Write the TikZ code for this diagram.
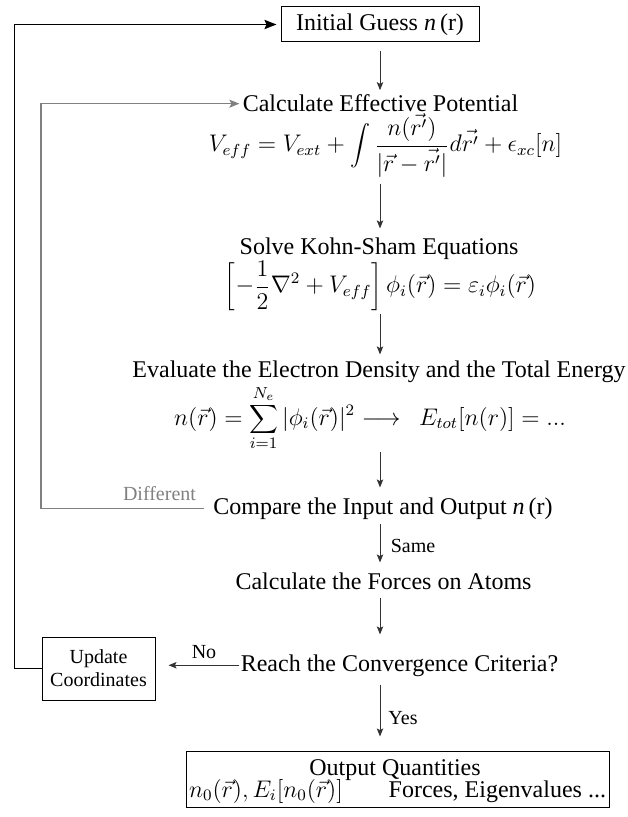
\documentclass[tikz,border=0pt]{standalone}
\usepackage[no-math]{fontspec}
\setmainfont{Liberation Serif}
\usetikzlibrary{arrows.meta,calc}
\begin{document}
\begin{tikzpicture}[x=0.5pt,y=-0.5pt,
  txt/.style={inner sep=0pt, font=\fontsize{12}{14.4}\selectfont},
  lab/.style={inner sep=0pt, font=\fontsize{10}{12}\selectfont},
  boxnode/.style={draw, line width=0.5pt, inner sep=0pt},
  arr/.style={draw=black!80, line width=0.5pt, -{Stealth[length=4pt,width=3.2pt,inset=0.8pt]}},
  blackloop/.style={draw=black, line width=0.9pt, -{Stealth[length=6pt,width=4.6pt,inset=1pt]}},
  grayloop/.style={draw=black!50, line width=0.6pt, -{Stealth[length=5pt,width=4pt,inset=1pt]}}
]
\useasboundingbox (0,0) rectangle (627,817);
\coordinate (col) at (380,0);

\node[boxnode, txt, minimum width=99pt, minimum height=17.5pt] (init) at (380,24.5) {Initial Guess \textit{n}\,(r)};
\node[txt, anchor=base] (calc) at (380.5,112) {Calculate Effective Potential};
\node[txt, anchor=base] (veff) at (385.5,152) {$\displaystyle V_{eff} = V_{ext} + \int \frac{n(\vec{r'})}{|\vec{r}-\vec{r'}|}d\vec{r'} + \epsilon_{xc}[n]$};
\node[txt, anchor=base] (solve) at (379,255) {Solve Kohn-Sham Equations};
\node[txt, anchor=base] (ks) at (380.5,293) {$\displaystyle \left[-\frac{1}{2}\nabla^2 + V_{eff}\right]\phi_i(\vec{r}) = \varepsilon_i\phi_i(\vec{r})$};
\node[txt, anchor=base] (eval) at (379,377) {Evaluate the Electron Density and the Total Energy};
\node[txt, anchor=base] (dens) at (370,425) {$\displaystyle n(\vec{r}) = \sum_{i=1}^{N_e}|\phi_i(\vec{r})|^2 \longrightarrow\ \ E_{tot}[n(r)] = ...$};
\node[txt, anchor=base] (comp) at (383,514) {Compare the Input and Output \textit{n}\,(r)};
\node[txt, anchor=base] (force) at (383.5,589) {Calculate the Forces on Atoms};
\node[txt, anchor=base] (reach) at (399.5,671) {Reach the Convergence Criteria?};
\node[boxnode, align=center, font=\fontsize{10}{11.5}\selectfont, minimum width=56.5pt, minimum height=31.5pt] (upd) at (98.5,668.5) {Update\\Coordinates};
\node[boxnode, minimum width=211.5pt, minimum height=28pt] (out) at (397.5,779) {};
\node[txt, anchor=base] (outt) at (395,775) {Output Quantities};
\node[txt, anchor=base] (outr) at (397.5,797) {\makebox[208.5pt]{$n_0(\vec{r}), E_i[n_0(\vec{r})]$\hfill Forces, Eigenvalues ...}};

\node[lab, anchor=base, text=black!50] (ldiff) at (159.5,500) {Different};
\node[lab, anchor=base] (lsame) at (413,552) {Same};
\node[lab, anchor=base] (lno) at (204,658) {No};
\node[lab, anchor=base] (lyes) at (403,724) {Yes};

\draw[arr, shorten <=4.5pt, shorten >=2.25pt] (init.south -| col) -- (calc.north -| col);
\draw[arr, shorten <=3pt, shorten >=4.75pt] (veff.south -| col) -- (solve.north -| col);
\draw[arr, shorten <=1.5pt, shorten >=2.75pt] (ks.south -| col) -- (eval.north -| col);
\draw[arr, shorten <=0.5pt, shorten >=4.75pt] (dens.south -| col) -- (comp.north -| col);
\draw[arr, shorten <=2pt, shorten >=4.75pt] (comp.south -| col) -- (force.north -| col);
\draw[arr, shorten <=4pt, shorten >=9.75pt] (force.south -| col) -- (reach.north -| col);
\draw[arr, shorten <=4pt, shorten >=7pt] (reach.south -| col) -- (out.north -| col);
\draw[arr, shorten <=0.5pt, shorten >=6.5pt] (reach.west) -- (reach.west -| upd.east);

\draw[grayloop, shorten <=4.5pt, shorten >=1.5pt] (comp.west) -- ++(-172,0) |- (calc.west);
\draw[blackloop, shorten >=2pt] (upd.west) -- ++(-27,0) |- (init.west);
\end{tikzpicture}
\end{document}
